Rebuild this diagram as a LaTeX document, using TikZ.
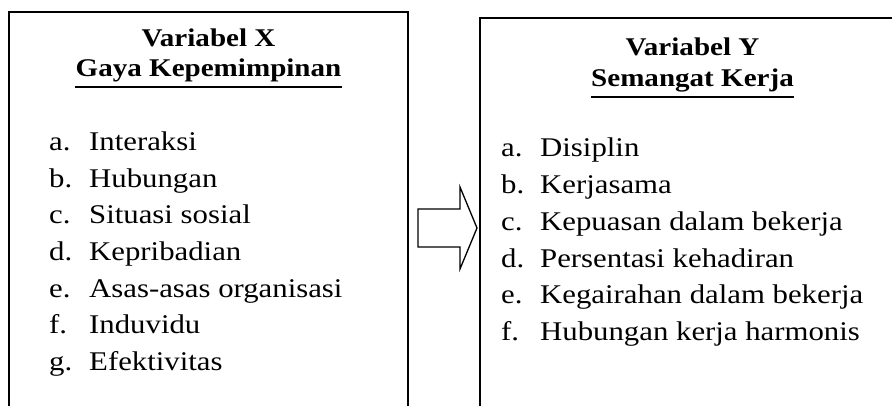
\documentclass[tikz,border=0pt]{standalone}
\usepackage{fontspec}
\setmainfont{Liberation Serif}[FakeStretch=1.14]
\begin{document}
\begin{tikzpicture}[x=1pt,y=-1pt,
  boxline/.style={line width=1.5pt,draw=black},
  ttl/.style={anchor=base,inner sep=0pt,font=\fontsize{25.5}{30}\selectfont\bfseries},
  lbl/.style={anchor=base west,inner sep=0pt,font=\fontsize{27}{32}\selectfont},
  itm/.style={anchor=base west,inner sep=0pt,font=\fontsize{27}{32}\selectfont},
  uline/.style={line width=1.5pt},
  blockarrow/.style={line width=1.3pt,draw=black,fill=white,line join=miter}]
\useasboundingbox (0,0) rectangle (892,406);
\clip (0,0) rectangle (892,406);
% boxes
\draw[boxline] (9,430) -- (9,12) -- (408,12) -- (408,430);
\draw[boxline] (480,430) -- (480,18) -- (900,18);
% arrow
\draw[blockarrow] (418,209) -- (460,209) -- (460,187) -- (477,228) -- (460,269) -- (460,247) -- (418,247) -- cycle;
% left titles
\node[ttl] (xt1) at (208.5,47) {Variabel X};
\node[ttl] (xt2) at (208.5,77) {Gaya Kepemimpinan};
\draw[uline] ([yshift=-10pt]xt2.base west) -- ([yshift=-10pt]xt2.base east);
% right titles
\node[ttl] (yt1) at (692.5,56) {Variabel Y};
\node[ttl] (yt2) at (692.5,87) {Semangat Kerja};
\draw[uline] ([yshift=-10pt]yt2.base west) -- ([yshift=-10pt]yt2.base east);
% left items
\foreach \l/\t [count=\i] in {a./Interaksi,b./Hubungan,c./Situasi sosial,d./Kepribadian,e./Asas-asas organisasi,f./Induvidu,g./Efektivitas}{
  \node[lbl] (xl\i) at (49,{150.7+36.6*(\i-1)}) {\l};
  \node[itm] (xi\i) at (89,{150.7+36.6*(\i-1)}) {\t};
}
% right items
\foreach \l/\t [count=\i] in {a./Disiplin,b./Kerjasama,c./Kepuasan dalam bekerja,d./Persentasi kehadiran,e./Kegairahan dalam bekerja,f./Hubungan kerja harmonis}{
  \node[lbl] (yl\i) at (501,{156.7+36.8*(\i-1)}) {\l};
  \node[itm] (yi\i) at (540,{156.7+36.8*(\i-1)}) {\t};
}
\end{tikzpicture}
\end{document}
